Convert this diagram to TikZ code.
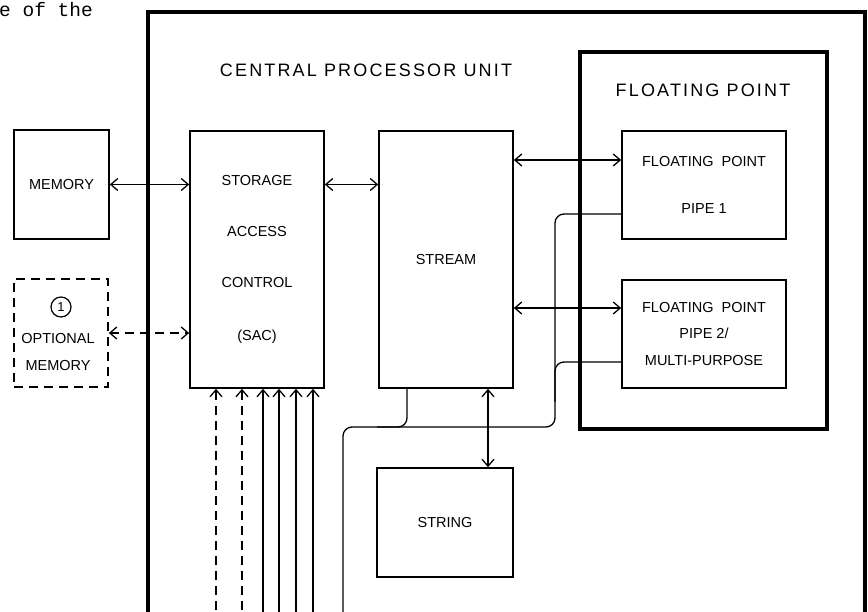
\documentclass[tikz,border=0pt]{standalone}
\usepackage{fontspec}
\setmainfont{Liberation Sans}
\newfontfamily\typefont{Liberation Mono}
\usetikzlibrary{arrows.meta}
\newdimen\pxsize
\setlength{\pxsize}{1pt}
\tikzset{
  unitbox/.style={draw,line width=1.6pt,inner sep=0pt,align=center,
    font=\fontsize{14.5}{17}\selectfont},
  unitlabel/.style={inner sep=0pt,align=center,font=\fontsize{14.5}{17}\selectfont},
  bigtitle/.style={inner sep=0pt,
    font=\fontsize{18}{21}\selectfont\addfontfeatures{LetterSpace=12}},
  framewall/.style={line width=3.5pt},
  link/.style={line width=1.3pt},
  longdash/.style={dash pattern=on 9pt off 6pt}
}

\begin{document}
\begin{tikzpicture}[x=\pxsize,y=-\pxsize,>={Straight Barb[length=7pt,width=12pt]}]
\useasboundingbox (0,0) rectangle (868,612);
\clip (0,0) rectangle (868,612);
\node[anchor=base west,inner sep=0pt,font=\typefont\fontsize{19.5}{22}\selectfont]
  (pagetext) at (-1,17) {e of the};
\draw[framewall] (148,640) -- (148,12) -- (865,12) -- (865,640);
\node[bigtitle] (cputitle) at (366,70) {CENTRAL PROCESSOR UNIT};
\node[unitbox,framewall,minimum width=247,minimum height=377] (fpunit)
  at (703.5,240.5) {};
\node[bigtitle] (fptitle) at (703,90) {FLOATING POINT};
\node[unitbox,minimum width=95,minimum height=109] (memory) at (61.5,184.5) {MEMORY};
\node[unitbox,longdash,minimum width=94,minimum height=108] (optmemory) at (61,333) {};
\node[circle,draw,line width=1.2pt,minimum size=20,inner sep=0pt,
  font=\fontsize{13}{15}\selectfont] (optmark) at (61,307) {1};
\node[unitlabel] (optlabel) at (58,352) {OPTIONAL\\[10pt]MEMORY};
\node[unitbox,minimum width=134,minimum height=257] (sac) at (257,259.5)
  {STORAGE\\[34pt]ACCESS\\[34pt]CONTROL\\[36pt](SAC)};
\node[unitbox,minimum width=134,minimum height=257] (stream) at (446,259.5) {STREAM};
\node[unitbox,minimum width=164,minimum height=108] (pipeone) at (704,185)
  {FLOATING\ \ POINT\\[30pt]PIPE 1};
\node[unitbox,minimum width=164,minimum height=108] (pipetwo) at (704,334)
  {FLOATING\ \ POINT\\[9.5pt]PIPE 2/\\[9.5pt]MULTI-PURPOSE};
\node[unitbox,minimum width=136,minimum height=109] (string) at (445,522.5) {STRING};
\path (pipeone.west) ++(0,-25) coordinate (pipeonein) ++(0,54) coordinate (pipeoneout);
\path (pipetwo.west) ++(0,-26) coordinate (pipetwoin) ++(0,54) coordinate (pipetwoout);
\coordinate (busturn) at (555,427);
\coordinate (busleft) at (343,427);
\coordinate (streamtap) at (407,0);
\coordinate (stringtap) at (488,0);
\draw[link,<->] (memory.east) -- (memory.east -| sac.west);
\draw[link,<->,longdash] (optmemory.east) -- (optmemory.east -| sac.west);
\draw[link,<->] (sac.east |- memory.east) -- (stream.west |- memory.east);
\draw[link,<->] (stream.east |- pipeonein) -- (pipeonein);
\draw[link,<->] (stream.east |- pipetwoin) -- (pipetwoin);
\draw[link,<->] (stream.south -| stringtap) -- (string.north -| stringtap);
\draw[link,rounded corners=9pt] (pipeoneout) -- (pipeoneout -| busturn) -- (busturn)
  -- (busleft) -- ++(0,220);
\draw[link,rounded corners=9pt] (pipetwoout) -- (pipetwoout -| busturn) -- ++(0,40);
\draw[link,rounded corners=9pt] (stream.south -| streamtap) -- (streamtap |- busturn)
  -- ++(-30,0);
\foreach \busx/\busdash in {216/longdash,242/longdash,263/solid,279/solid,296/solid,313/solid}
  \draw[link,->,\busdash] (\busx,640) -- (\busx,640 |- sac.south);
\end{tikzpicture}
\end{document}
